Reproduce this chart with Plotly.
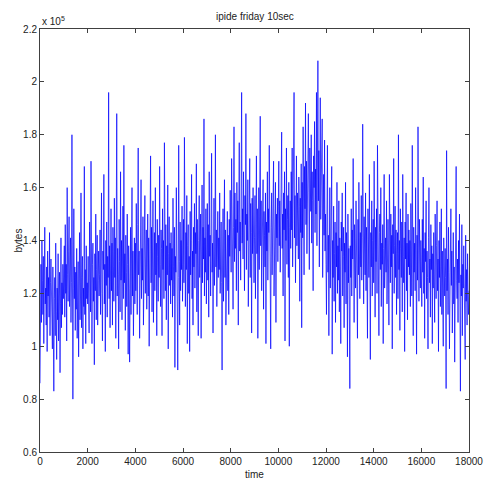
import plotly.graph_objects as go

# traffic volume (kilobytes), one reading every 20 s; one list per 1000 s
kb_00 = [86, 118, 131, 109, 140, 125, 112, 134, 101, 127, 145, 116, 122, 108, 130, 98, 136, 119, 126, 111, 143, 104, 124, 133, 115,
         121, 99, 130, 108, 83, 118, 126, 104, 139, 113, 95, 122, 110, 135, 102, 119, 128, 90, 116, 141, 107, 124, 112, 131, 118]
kb_01 = [125, 138, 111, 146, 120, 131, 102, 160, 127, 117, 136, 149, 115, 129, 141, 109, 124, 180, 133, 80, 122, 152, 118, 130, 106,
         128, 114, 137, 103, 121, 132, 96, 125, 143, 110, 119, 158, 107, 126, 134, 99, 122, 115, 168, 112, 129, 101, 138, 118, 124]
kb_02 = [116, 134, 122, 105, 147, 128, 113, 170, 124, 101, 131, 139, 117, 126, 93, 135, 121, 150, 110, 129, 142, 108, 125, 136, 119,
         127, 144, 112, 133, 158, 120, 102, 136, 129, 165, 116, 131, 98, 140, 123, 147, 111, 134, 126, 196, 118, 138, 107, 130, 152]
kb_03 = [121, 139, 108, 145, 130, 117, 156, 126, 141, 103, 134, 188, 119, 137, 127, 99, 148, 132, 113, 166, 125, 140, 110, 136, 153,
         118, 176, 124, 135, 106, 142, 128, 115, 150, 131, 97, 138, 122, 94, 133, 145, 112, 127, 160, 119, 136, 104, 129, 141, 116]
kb_04 = [139, 121, 154, 130, 112, 146, 175, 127, 136, 103, 142, 131, 163, 118, 137, 125, 149, 108, 140, 133, 157, 120, 128, 144, 114,
         132, 150, 119, 141, 100, 137, 128, 172, 124, 145, 113, 136, 155, 109, 130, 143, 121, 160, 127, 139, 104, 148, 134, 117, 142]
kb_05 = [126, 168, 131, 115, 144, 137, 104, 152, 129, 140, 118, 177, 133, 121, 146, 110, 138, 127, 161, 99, 135, 149, 123, 139, 116,
         143, 125, 137, 111, 156, 130, 119, 145, 92, 134, 128, 160, 115, 138, 91, 126, 176, 132, 108, 147, 121, 140, 129, 153, 117]
kb_06 = [131, 148, 124, 179, 136, 115, 143, 129, 157, 101, 138, 146, 120, 134, 98, 151, 127, 140, 165, 118, 136, 108, 145, 130, 154,
         122, 143, 135, 169, 113, 148, 131, 104, 140, 157, 126, 137, 150, 103, 138, 161, 124, 145, 133, 186, 119, 141, 128, 152, 116]
kb_07 = [137, 154, 125, 146, 111, 166, 134, 142, 119, 150, 173, 128, 139, 105, 147, 156, 123, 136, 180, 130, 144, 115, 138, 151, 126,
         141, 129, 158, 120, 135, 147, 124, 91, 133, 152, 117, 139, 163, 126, 144, 108, 137, 130, 151, 121, 142, 112, 148, 134, 159]
kb_08 = [149, 128, 171, 140, 153, 114, 145, 183, 132, 158, 137, 148, 121, 162, 143, 155, 108, 150, 177, 136, 147, 125, 160, 196, 139,
         152, 133, 166, 144, 121, 157, 146, 188, 129, 150, 140, 163, 115, 148, 137, 171, 126, 154, 143, 105, 156, 135, 160, 146, 124]
kb_09 = [141, 157, 118, 148, 172, 135, 152, 103, 144, 160, 129, 149, 187, 138, 155, 121, 146, 134, 163, 114, 151, 142, 130, 158, 101,
         147, 136, 166, 125, 152, 143, 176, 130, 149, 99, 145, 158, 127, 154, 140, 170, 119, 148, 137, 162, 109, 150, 141, 156, 132]
kb_10 = [153, 170, 138, 155, 128, 161, 146, 181, 137, 150, 119, 158, 144, 166, 102, 152, 140, 175, 131, 148, 157, 126, 162, 100, 145,
         155, 137, 166, 144, 175, 130, 152, 160, 196, 141, 157, 124, 149, 172, 138, 158, 147, 133, 164, 153, 117, 156, 143, 169, 107]
kb_11 = [162, 141, 183, 156, 127, 168, 152, 192, 146, 170, 135, 160, 149, 188, 158, 129, 175, 163, 151, 180, 139, 166, 155, 121, 172,
         160, 185, 143, 167, 150, 196, 138, 163, 208, 155, 174, 130, 161, 194, 148, 169, 157, 186, 126, 153, 165, 142, 178, 136, 150]
kb_12 = [131, 112, 150, 176, 128, 142, 104, 138, 160, 122, 145, 133, 168, 97, 140, 126, 153, 117, 135, 147, 109, 143, 130, 162, 120,
         138, 125, 155, 113, 141, 130, 101, 147, 136, 158, 119, 134, 145, 107, 139, 128, 162, 116, 143, 131, 96, 150, 124, 137, 112]
kb_13 = [84, 138, 126, 152, 119, 144, 133, 171, 128, 109, 146, 137, 122, 155, 131, 140, 103, 148, 127, 162, 135, 118, 143, 130, 157,
         125, 141, 184, 132, 116, 149, 138, 127, 158, 121, 145, 133, 103, 152, 139, 126, 165, 135, 95, 143, 130, 155, 119, 140, 148]
kb_14 = [124, 170, 136, 111, 145, 132, 152, 120, 176, 138, 127, 104, 143, 150, 129, 160, 115, 139, 131, 146, 101, 137, 165, 122, 134,
         141, 128, 155, 116, 139, 148, 133, 108, 165, 137, 124, 150, 130, 142, 99, 146, 135, 171, 120, 138, 153, 126, 144, 112, 135]
kb_15 = [143, 118, 180, 129, 140, 106, 152, 137, 126, 147, 113, 165, 134, 124, 141, 98, 147, 133, 158, 121, 139, 110, 150, 130, 144,
         127, 140, 115, 154, 132, 119, 176, 136, 104, 145, 128, 139, 121, 160, 133, 97, 142, 125, 183, 131, 117, 148, 135, 122, 140]
kb_16 = [130, 115, 148, 128, 164, 120, 137, 103, 143, 132, 155, 118, 136, 126, 99, 141, 160, 124, 133, 111, 146, 129, 138, 101, 135,
         122, 143, 131, 109, 150, 127, 118, 138, 155, 121, 133, 98, 140, 126, 147, 115, 130, 152, 112, 136, 124, 100, 141, 129, 119]
kb_17 = [137, 126, 84, 174, 121, 133, 112, 145, 128, 99, 131, 118, 152, 123, 136, 105, 128, 143, 116, 130, 94, 138, 120, 168, 125,
         118, 133, 109, 140, 124, 150, 113, 83, 127, 119, 146, 104, 131, 122, 138, 110, 125, 95, 142, 117, 129, 108, 135, 120, 112,
         121]

sample_step_s = 20
x_ticks = [0, 2000, 4000, 6000, 8000, 10000, 12000, 14000, 16000, 18000]
y_tickvals = [60000, 80000, 100000, 120000, 140000, 160000, 180000, 200000, 220000]
y_ticktext = ["0.6", "0.8", "1", "1.2", "1.4", "1.6", "1.8", "2", "2.2"]

chunks = [kb_00, kb_01, kb_02, kb_03, kb_04, kb_05, kb_06, kb_07, kb_08,
          kb_09, kb_10, kb_11, kb_12, kb_13, kb_14, kb_15, kb_16, kb_17]
kbytes = [v for c in chunks for v in c]
bytes_ = [v * 1000 for v in kbytes]
time = [i * sample_step_s for i in range(len(bytes_))]

FONT = "Liberation Sans, Arial, Helvetica, sans-serif"
AX = "#404040"
TXT = "#222"

fig = go.Figure(go.Scatter(
    x=time, y=bytes_, mode="lines",
    line=dict(color="rgb(0,0,255)", width=0.7),
    hoverinfo="skip", showlegend=False,
))

axis_common = dict(
    showgrid=False, zeroline=False, showline=True, linecolor=AX, linewidth=1,
    mirror="ticks", ticks="inside", ticklen=4, tickcolor=AX, automargin=False,
    tickfont=dict(family=FONT, size=10, color=TXT),
)

fig.update_layout(
    width=485, height=481,
    margin=dict(l=40, r=16, t=29, b=29),
    paper_bgcolor="white", plot_bgcolor="white",
    font=dict(family=FONT, size=10, color=TXT),
    xaxis=dict(range=[0, 18000], tickvals=x_ticks,
               ticktext=[str(v) for v in x_ticks], **axis_common),
    yaxis=dict(range=[60000, 220000], tickvals=y_tickvals, ticktext=y_ticktext,
               **axis_common),
    annotations=[
        dict(text="ipide friday 10sec", xref="paper", yref="paper", x=0.5, y=1,
             xanchor="center", yanchor="bottom", yshift=5, showarrow=False,
             font=dict(family=FONT, size=10, color=TXT)),
        dict(text="x 10<sup>5</sup>", xref="paper", yref="paper", x=0, y=1,
             xanchor="left", yanchor="bottom", yshift=0, showarrow=False,
             font=dict(family=FONT, size=10, color=TXT)),
        dict(text="bytes", xref="paper", yref="paper", x=0, y=0.5,
             xanchor="center", yanchor="middle", xshift=-22, textangle=-90,
             showarrow=False, font=dict(family=FONT, size=10, color=TXT)),
        dict(text="time", xref="paper", yref="paper", x=0.5, y=0,
             xanchor="center", yanchor="top", yshift=-15, showarrow=False,
             font=dict(family=FONT, size=10, color=TXT)),
    ],
)

fig.write_html(
    "out.html",
    config={"displayModeBar": False, "staticPlot": True},
    post_script="document.body.style.margin='0';document.body.style.overflow='hidden';",
)
